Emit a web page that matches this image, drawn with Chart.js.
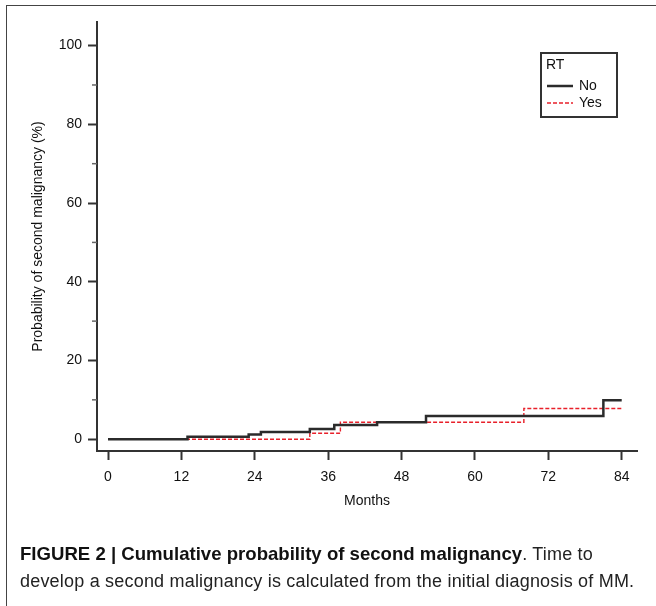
<!DOCTYPE html>
<html>
<head>
<meta charset="utf-8">
<script src="https://cdn.jsdelivr.net/npm/chart.js@4"></script>
<style>
  body { margin: 0; background: #fff; }
  #wrap { position: relative; width: 656px; height: 606px; overflow: hidden; }
  #frame { position: absolute; left: 6px; top: 5px; width: 660px; height: 620px;
           border-top: 1.5px solid #444; border-left: 1.5px solid #444; }
  canvas { position: absolute; left: 0; top: 0; }
  #caption { position: absolute; left: 20px; top: 540px; width: 640px;
             font-family: "Liberation Sans", Arial, sans-serif; font-size: 18px;
             letter-spacing: 0.2px; line-height: 27px; color: #222; white-space: nowrap; }
  #caption b { font-weight: bold; color: #111; letter-spacing: 0; font-size: 18.6px; }
</style>
</head>
<body>
<div id="wrap">
  <div id="frame"></div>
  <canvas id="myChart" width="656" height="606"></canvas>
  <div id="caption"><b>FIGURE 2 | Cumulative probability of second malignancy</b>. Time to<br>develop a second malignancy is calculated from the initial diagnosis of MM.</div>
</div>
<script>
// Step data (months, cumulative %)
const noMonths = [0, 13, 23, 25, 33, 37, 44, 52, 81, 84];
const noValues = [0, 0.6, 1.2, 1.8, 2.6, 3.6, 4.3, 5.9, 9.9, 9.9];
const yesMonths = [0, 33, 38, 68, 84];
const yesValues = [0, 1.5, 4.3, 7.8, 7.8];

const xTicks = [0, 12, 24, 36, 48, 60, 72, 84];
const yTicks = [0, 20, 40, 60, 80, 100];
const yMinorTicks = [10, 30, 50, 70, 90];

const legendTitle = 'RT';
const seriesNames = ['No', 'Yes'];

const axisColor = '#333';
const font = "'Liberation Sans', Arial, sans-serif";

function toPoints(xs, ys) {
    return xs.map((x, i) => ({ x: x, y: ys[i] }));
}

// minor ticks on y axis and the boxed legend
const extras = {
    id: 'extras',
    afterDraw(chart) {
        const ctx = chart.ctx;
        const y = chart.scales.y;
        const left = chart.chartArea.left;
        ctx.save();
        ctx.strokeStyle = '#666';
        ctx.lineWidth = 1.5;
        yMinorTicks.forEach(v => {
            const py = y.getPixelForValue(v);
            ctx.beginPath();
            ctx.moveTo(left - 5, py);
            ctx.lineTo(left, py);
            ctx.stroke();
        });

        // legend box
        const bx = 541, by = 53, bw = 76, bh = 64;
        ctx.strokeStyle = '#333';
        ctx.lineWidth = 2;
        ctx.strokeRect(bx, by, bw, bh);
        ctx.fillStyle = '#111';
        ctx.font = '14px ' + font;
        ctx.textBaseline = 'middle';
        ctx.fillText(legendTitle, bx + 5, by + 12);
        chart.data.datasets.forEach((ds, i) => {
            const ly = by + 33 + i * 17;
            ctx.strokeStyle = ds.borderColor;
            ctx.lineWidth = ds.borderWidth;
            ctx.setLineDash(ds.borderDash || []);
            ctx.beginPath();
            ctx.moveTo(bx + 6, ly);
            ctx.lineTo(bx + 32, ly);
            ctx.stroke();
            ctx.setLineDash([]);
            ctx.fillText(seriesNames[i], bx + 38, ly);
        });
        ctx.restore();
    }
};

const ctx1 = document.getElementById('myChart').getContext('2d');
new Chart(ctx1, {
    type: 'line',
    data: {
        datasets: [
            {
                label: seriesNames[0],
                data: toPoints(noMonths, noValues),
                borderColor: '#2b2b2b',
                borderWidth: 2.5,
                stepped: 'before',
                pointRadius: 0,
                fill: false
            },
            {
                label: seriesNames[1],
                data: toPoints(yesMonths, yesValues),
                borderColor: 'rgb(232, 32, 42)',
                borderWidth: 1.4,
                borderDash: [4, 2],
                stepped: 'before',
                pointRadius: 0,
                fill: false
            }
        ]
    },
    options: {
        responsive: false,
        animation: false,
        layout: { padding: { left: 0, top: 22, right: 19, bottom: 96 } },
        plugins: { legend: { display: false }, tooltip: { enabled: false } },
        scales: {
            x: {
                type: 'linear',
                min: -1.8,
                max: 86.5,
                afterBuildTicks: s => { s.ticks = xTicks.map(v => ({ value: v })); },
                afterFit: s => { s.height = 59; },
                grid: { drawOnChartArea: false, drawTicks: true, tickLength: 9, tickWidth: 2, tickColor: axisColor },
                border: { display: true, color: axisColor, width: 2 },
                ticks: { color: '#111', font: { family: font, size: 14 }, padding: 9, maxRotation: 0 },
                title: { display: true, text: 'Months', color: '#111', font: { family: font, size: 14 }, padding: { top: 2, bottom: 0 } }
            },
            y: {
                type: 'linear',
                min: -3,
                max: 106,
                afterBuildTicks: s => { s.ticks = yTicks.map(v => ({ value: v })); },
                afterFit: s => { s.width = 97; },
                grid: { drawOnChartArea: false, drawTicks: true, tickLength: 9, tickWidth: 2, tickColor: axisColor },
                border: { display: true, color: axisColor, width: 2 },
                ticks: { color: '#111', font: { family: font, size: 14 }, padding: 6 },
                title: { display: true, text: 'Probability of second malignancy (%)', color: '#111', font: { family: font, size: 14 }, padding: { top: 30 } }
            }
        }
    },
    plugins: [extras]
});
</script>
</body>
</html>
